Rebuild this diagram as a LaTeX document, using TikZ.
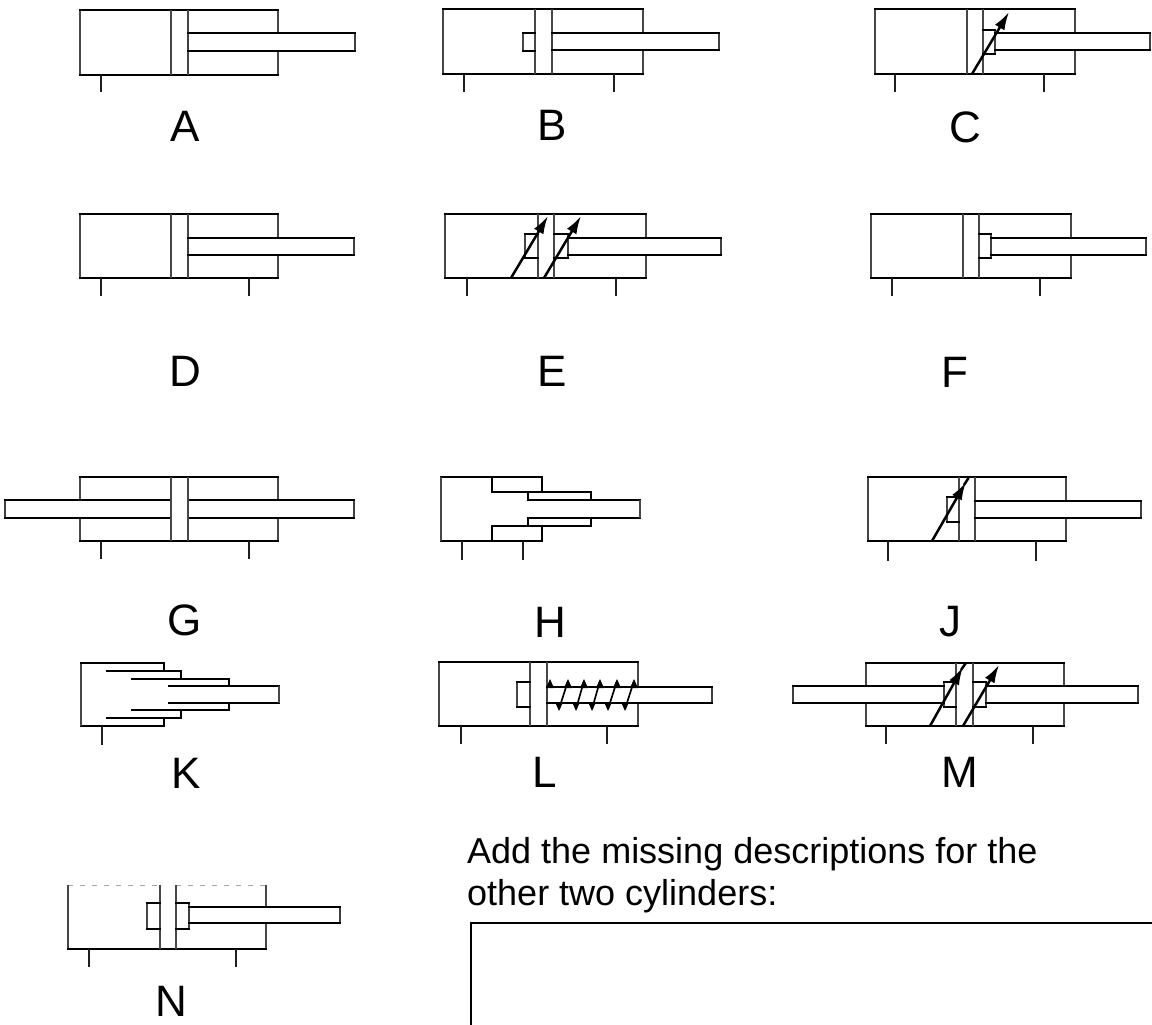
\documentclass[tikz,border=0pt]{standalone}
\usepackage{fontspec}
\setmainfont{Liberation Sans}
\usetikzlibrary{arrows.meta}
\tikzset{
  main/.style={draw=black,line width=2.5pt,line join=miter,line cap=rect},
  side/.style={draw=black!72,line width=1.5pt},
  rodside/.style={draw=black!75,line width=1.5pt},
  portline/.style={draw=black!88,line width=2pt},
  adjuster/.style={draw=black,line width=2.5pt,-{Latex[length=18pt,width=11pt]}},
  plainstroke/.style={draw=black,line width=2.5pt},
  coilstroke/.style={draw=black,line width=1.7pt},
  letter/.style={font=\fontsize{44}{44}\selectfont,text=black,inner sep=0pt,anchor=center},
  caption/.style={font=\fontsize{36}{36}\selectfont,text=black,inner sep=0pt,anchor=base west},
}
% x0 x1 ytop ybot
\newcommand{\cylbody}[4]{\draw[side] (#1,#3) -- (#1,#4) (#2,#3) -- (#2,#4);\draw[main] (#1,#3) -- (#2,#3) (#1,#4) -- (#2,#4);}
\newcommand{\pistonbar}[4]{\draw[side] (#1,#3) -- (#1,#4) (#2,#3) -- (#2,#4);}
\newcommand{\stopbox}[4]{\draw[side,fill=white] (#1,#3) rectangle (#2,#4);\draw[main] (#1,#3) -- (#2,#3) (#1,#4) -- (#2,#4);}
\newcommand{\rodbar}[4]{\fill[white] (#1,#3) rectangle (#2,#4);\draw[rodside] (#1,#3) -- (#1,#4) (#2,#3) -- (#2,#4);\draw[main] (#1,#3) -- (#2,#3) (#1,#4) -- (#2,#4);}
\newcommand{\mountleg}[3]{\draw[portline] (#1,#2) -- (#1,#3);}
\newcommand{\adjust}[4]{\draw[adjuster] (#1,#2) -- (#3,#4);}
\newcommand{\springtop}[1]{\fill[black] (#1,679) -- (#1-4,688) -- (#1+4,688) -- cycle;}
\newcommand{\springbot}[1]{\fill[black] (#1,711) -- (#1-4,702) -- (#1+4,702) -- cycle;}
\begin{document}
\begin{tikzpicture}[x=1pt,y=-1pt]
\useasboundingbox (0,0) rectangle (1152,1025);
% A
\cylbody{80}{278}{10}{75}\pistonbar{171}{188}{10}{75}\rodbar{188}{355}{33}{51}\mountleg{101}{75}{92}
\node[letter] (la) at (185,126.5) {A};
% B
\cylbody{443}{643}{9}{74}\pistonbar{535}{552}{9}{74}\stopbox{523}{535}{33}{51}\rodbar{552}{719}{33}{50}
\mountleg{464}{74}{92}\mountleg{614}{74}{92}
\node[letter] (lb) at (552,125) {B};
% C
\cylbody{875}{1075}{9}{74}\pistonbar{967}{983}{9}{74}\stopbox{983}{995}{30}{54}\rodbar{995}{1150}{33}{50}
\adjust{972}{74}{1009}{12}\mountleg{895}{74}{92}\mountleg{1044}{74}{92}
\node[letter] (lc) at (965,127) {C};
% D
\cylbody{80}{278}{214}{278}\pistonbar{171}{188}{214}{278}\rodbar{188}{354}{238}{255}
\mountleg{101}{278}{296}\mountleg{249}{278}{296}
\node[letter] (ld) at (185,371) {D};
% E
\cylbody{445}{646}{214}{278}\pistonbar{538}{554}{214}{278}\stopbox{525}{538}{234}{258}\stopbox{554}{568}{234}{258}
\rodbar{568}{721}{238}{255}
\adjust{511}{278}{548}{216}\adjust{544}{278}{581}{216}
\mountleg{467}{278}{296}\mountleg{616}{278}{296}
\node[letter] (le) at (552,371) {E};
% F
\cylbody{871}{1071}{214}{278}\pistonbar{963}{979}{214}{278}\stopbox{979}{991}{234}{258}\rodbar{991}{1146}{238}{255}
\mountleg{892}{278}{296}\mountleg{1040}{278}{296}
\node[letter] (lf) at (955,372) {F};
% G
\cylbody{80}{278}{477}{541}\rodbar{5}{171}{500}{518}\rodbar{188}{354}{500}{518}\pistonbar{171}{188}{477}{541}
\mountleg{101}{541}{559}\mountleg{249}{541}{559}
\node[letter] (lg) at (185,620) {G};
% H
\draw[main] (441,477) -- (542,477) (591,492) -- (591,500) -- (640,500) (640,518) -- (591,518) -- (591,526) (542,526) -- (542,541) -- (441,541);
\draw[main] (542,477) -- (542,492);
\draw[side] (441,477) -- (441,541) (640,500) -- (640,518);
\draw[main] (492,477) -- (492,492) -- (528,492) -- (528,500) -- (591,500);
\draw[main] (492,541) -- (492,526) -- (528,526) -- (528,518) -- (591,518);
\draw[main] (528,492) -- (591,492) (528,526) -- (591,526);
\mountleg{462}{541}{560}\mountleg{523}{541}{560}
\node[letter] (lh) at (550,622) {H};
% J
\cylbody{868}{1066}{477}{541}\pistonbar{959}{975}{477}{541}\stopbox{947}{959}{497}{522}\rodbar{975}{1141}{501}{518}
\draw[plainstroke] (964,485) -- (968.5,478);
\adjust{932}{541}{966}{482}\mountleg{888}{541}{561}\mountleg{1036}{541}{561}
\node[letter] (lj) at (950,622) {J};
% K
\draw[main] (107,671) -- (181,671) -- (181,679) (132,679) -- (229,679) -- (229,686) (169,686) -- (279,686) (279,703) -- (169,703)
  (229,703) -- (229,710) -- (132,710) (181,710) -- (181,718) -- (107,718)
  (164,718) -- (164,726) -- (81,726);
\draw[side] (279,686) -- (279,703) (81,726) -- (81,663);
\draw[main] (81,663) -- (164,663) -- (164,671);
\mountleg{102}{726}{745}
\node[letter] (lk) at (186,773) {K};
% L
\cylbody{439}{638}{662}{726}\pistonbar{530}{547}{662}{726}\stopbox{517}{530}{682}{707}\rodbar{547}{712}{687}{703}
\foreach \a/\b in {559/568,576/584,592/600,608/617,625/634}{\draw[coilstroke] (\a,709) -- (\b,681); \springtop{\b}\springbot{\a}}
\springtop{550}
\mountleg{461}{726}{744}\mountleg{607}{726}{744}
\node[letter] (ll) at (545,772) {L};
% M
\cylbody{866}{1064}{663}{726}\pistonbar{956}{973}{663}{726}\stopbox{944}{956}{682}{707}\stopbox{973}{986}{682}{707}
\rodbar{793}{944}{686}{703}\rodbar{986}{1138}{686}{703}
\draw[plainstroke] (961,670) -- (965.5,663.5);
\adjust{930}{726}{963}{667}\adjust{963}{726}{999}{665}
\mountleg{886}{726}{744}\mountleg{1033}{726}{744}
\node[letter] (lm) at (960,772) {M};
% N
\draw[draw=black!35,line width=1pt,dash pattern=on 5pt off 7pt] (68,885) -- (160,885) (176,885) -- (266,885);
\draw[side] (68,885) -- (68,949) (266,885) -- (266,949);
\draw[main] (68,949) -- (266,949);
\draw[side] (160,885) -- (160,949) (176,885) -- (176,949);
\stopbox{147}{160}{903}{929}\stopbox{176}{189}{903}{929}\rodbar{189}{340}{907}{923}
\mountleg{89}{949}{967}\mountleg{236}{949}{967}
\node[letter] (ln) at (171,1001) {N};
% caption and answer box
\node[caption] (t1) at (467,863) {Add the missing descriptions for the};
\node[caption] (t2) at (467,905) {other two cylinders:};
\draw[main] (471,1025) -- (471,923) -- (1152,923);
\end{tikzpicture}
\end{document}
